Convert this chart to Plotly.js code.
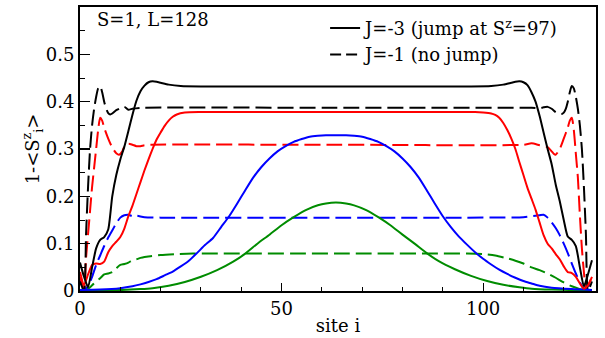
<!DOCTYPE html>
<html>
<head>
<meta charset="utf-8">
<script src="https://cdn.plot.ly/plotly-3.0.1.min.js"></script>
<style>html,body{margin:0;padding:0;background:#fff;}#chart{width:605px;height:338px;}</style>
</head>
<body>
<div id="chart"></div>
<script>
// ---- data ----
// J=-3 curves (solid)
const blackSolidX = [0,1,2,3,4,5,6,7,8,9,10,11,12,13,14,15,16,17,18,19,20,22,25,30,40,50,63.5,77,87,97,102,105,107,108,109,110,111,112,113,114,115,116,117,118,119,120,121,122,123,124,125,126,127];
const blackSolidY = [0.06,0.03,0.008,0.05,0.09,0.108,0.114,0.13,0.2,0.245,0.278,0.305,0.338,0.372,0.402,0.422,0.434,0.441,0.443,0.442,0.44,0.436,0.433,0.432,0.432,0.432,0.432,0.432,0.432,0.432,0.433,0.436,0.44,0.442,0.443,0.441,0.435,0.42,0.4,0.37,0.335,0.3,0.268,0.225,0.19,0.15,0.115,0.108,0.095,0.05,0.01,0.035,0.065];

const redSolidX = [0,1,2,3,4,5,6,7,8,9,10,11,12,13,14,15,16,17,18,19,20,21,22,23,24,26,30,63.5,98,100,102,103,104,105,106,107,108,109,110,111,112,113,114,115,116,117,118,119,120,121,122,123,124,125,126,127];
const redSolidY = [0.04,0.013,0.035,0.055,0.058,0.057,0.062,0.082,0.095,0.104,0.114,0.132,0.158,0.18,0.205,0.23,0.255,0.278,0.3,0.32,0.335,0.349,0.36,0.368,0.373,0.377,0.378,0.378,0.378,0.377,0.375,0.372,0.366,0.355,0.34,0.322,0.3,0.272,0.245,0.218,0.195,0.172,0.145,0.118,0.1,0.09,0.078,0.067,0.052,0.04,0.038,0.03,0.016,0.005,0.012,0.03];

const blueSolidX = [0,5,10,13,15,17,19,21,23,25,27,29,31,33,35,37,39,41,43,45,47,49,51,53,55,57,59,61,63.5,66,68,70,72,74,76,78,80,82,84,86,88,90,92,94,96,98,100,102,104,106,108,110,112,114,117,122,127];
const blueSolidY = [0.002,0.003,0.006,0.01,0.014,0.019,0.025,0.033,0.041,0.052,0.064,0.08,0.097,0.112,0.135,0.158,0.185,0.213,0.24,0.262,0.28,0.295,0.306,0.315,0.321,0.326,0.328,0.329,0.329,0.329,0.328,0.326,0.321,0.315,0.306,0.295,0.28,0.262,0.24,0.213,0.185,0.158,0.135,0.115,0.098,0.082,0.068,0.056,0.045,0.036,0.028,0.021,0.016,0.011,0.007,0.004,0.002];

const greenSolidX = [0,10,15,18,22,26,30,34,38,41,44,47,50,53,56,59,61,63.5,66,68,71,74,77,80,83,86,89,93,97,101,105,109,112,117,122,127];
const greenSolidY = [0.001,0.002,0.004,0.006,0.011,0.019,0.03,0.044,0.062,0.079,0.1,0.119,0.139,0.156,0.171,0.181,0.185,0.187,0.185,0.181,0.171,0.156,0.139,0.119,0.1,0.08,0.063,0.046,0.032,0.021,0.013,0.008,0.005,0.003,0.002,0.001];

// J=-1 curves (dashed)
const blackDashX = [0,1,1.5,2,2.5,3,3.5,4,4.5,5,5.5,6,6.5,7,7.5,8,9,10,11,12,13,15,63.5,112,114,115,116,117,118,119,119.5,120,120.5,121,121.5,122,122.5,123,123.5,124,124.5,125,125.5,126,127];
const blackDashY = [0.02,0.0,0.12,0.22,0.3,0.35,0.385,0.41,0.428,0.433,0.42,0.4,0.385,0.376,0.373,0.375,0.382,0.386,0.389,0.383,0.385,0.387,0.387,0.387,0.386,0.388,0.389,0.385,0.378,0.374,0.374,0.377,0.385,0.4,0.42,0.433,0.428,0.41,0.385,0.35,0.3,0.22,0.12,0.0,0.02];

const redDashX = [0,1,1.5,2,2.5,3,3.5,4,4.5,5,5.5,6,7,8,9,9.7,10.5,11,12,13,14,15,16,18,63.5,110,112,114,116,117,117.5,118,119,120,121,121.5,122,122.5,123,123.5,124,124.5,125,125.5,126.5,127];
const redDashY = [0.03,0.005,0.07,0.12,0.17,0.22,0.26,0.3,0.34,0.366,0.36,0.345,0.322,0.303,0.291,0.288,0.295,0.305,0.311,0.309,0.306,0.306,0.308,0.309,0.309,0.309,0.312,0.308,0.304,0.295,0.29,0.288,0.3,0.322,0.345,0.36,0.366,0.34,0.29,0.24,0.16,0.09,0.04,0.005,0.02,0.03];

const blueDashX = [0,1,2,3,4,5,6,7,8,9,10,11,12,13,14,16,20,63.5,110,112,114,115,116,117,118,119,120,121,122,123,124,125,126,127];
const blueDashY = [0.025,0.004,0.01,0.03,0.055,0.075,0.095,0.113,0.128,0.143,0.155,0.16,0.161,0.158,0.159,0.156,0.155,0.155,0.156,0.158,0.16,0.161,0.155,0.145,0.133,0.118,0.1,0.08,0.058,0.037,0.018,0.005,0.01,0.02];

const greenDashX = [0,2,3,4,5,6,7,8,9,10,11,12,13,14,15,16,18,20,24,28,63.5,96,100,103,106,108,110,112,114,116,118,120,122,124,125,127];
const greenDashY = [0.002,0.005,0.012,0.02,0.027,0.035,0.037,0.04,0.048,0.055,0.057,0.06,0.065,0.067,0.07,0.072,0.074,0.076,0.078,0.079,0.079,0.079,0.078,0.075,0.069,0.064,0.058,0.05,0.044,0.037,0.028,0.018,0.01,0.004,0.002,0.002];

const legendNames = ['J=-3 (jump at S<sup>z</sup>=97)', 'J=-1 (no jump)'];
const annotationText = 'S=1, L=128';
const xTickVals = [0, 50, 100];
const xTickText = ['0', '50', '100'];
const yTickVals = [0, 0.1, 0.2, 0.3, 0.4, 0.5];
const yTickText = ['0', '0.1', '0.2', '0.3', '0.4', '0.5'];

// ---- styling ----
const FONT = 'DejaVu Serif';
const BLACK = '#000000', RED = '#ff0000', BLUE = '#0000ff', GREEN = '#008c00';
const DASH = '16px,6px';

function line(x, y, color, dash) {
  return {x: x, y: y, type: 'scatter', mode: 'lines', showlegend: false,
          hoverinfo: 'skip', line: {color: color, width: 2, dash: dash, shape: 'spline', smoothing: 0.6}};
}

const traces = [
  line(greenDashX, greenDashY, GREEN, DASH),
  line(blueDashX, blueDashY, BLUE, DASH),
  line(redDashX, redDashY, RED, DASH),
  line(blackDashX, blackDashY, BLACK, DASH),
  line(greenSolidX, greenSolidY, GREEN, 'solid'),
  line(blueSolidX, blueSolidY, BLUE, 'solid'),
  line(redSolidX, redSolidY, RED, 'solid'),
  line(blackSolidX, blackSolidY, BLACK, 'solid'),
  {x: [null], y: [null], type: 'scatter', mode: 'lines', name: legendNames[0], showlegend: true,
   line: {color: BLACK, width: 2}},
  {x: [null], y: [null], type: 'scatter', mode: 'lines', name: legendNames[1], showlegend: true,
   line: {color: BLACK, width: 2, dash: '11px,5px'}}
];

const layout = {
  width: 605, height: 338,
  margin: {l: 80, r: 9, t: 7, b: 47},
  paper_bgcolor: '#ffffff', plot_bgcolor: '#ffffff',
  font: {family: FONT, size: 18, color: '#000'},
  showlegend: true,
  legend: {x: 0.475, xanchor: 'left', y: 0.99, yanchor: 'top', bgcolor: 'rgba(0,0,0,0)',
           font: {family: FONT, size: 18, color: '#000'}, tracegroupgap: 0, itemwidth: 30},
  xaxis: {
    range: [0, 128], showgrid: false, zeroline: false,
    showline: true, linecolor: '#000', linewidth: 2, mirror: true,
    ticks: 'inside', ticklen: 8, tickwidth: 1.2, tickcolor: '#000',
    tickmode: 'array', tickvals: xTickVals, ticktext: xTickText,
    tickfont: {family: FONT, size: 18},
    minor: {tickmode: 'linear', tick0: 0, dtick: 10, ticks: 'inside', ticklen: 4, tickwidth: 1, tickcolor: '#000'},
    title: {text: 'site i', font: {family: FONT, size: 18}, standoff: 2}
  },
  yaxis: {
    range: [0, 0.6], showgrid: false, zeroline: false,
    showline: true, linecolor: '#000', linewidth: 2, mirror: true,
    ticks: 'inside', ticklen: 10, tickwidth: 1.2, tickcolor: '#000',
    tickmode: 'array', tickvals: yTickVals, ticktext: yTickText,
    tickfont: {family: FONT, size: 18},
    minor: {tickmode: 'linear', tick0: 0, dtick: 0.05, ticks: 'inside', ticklen: 5, tickwidth: 1, tickcolor: '#000'},
    title: {text: '1-&lt;S<sup>z</sup><sub>i</sub>&gt;', font: {family: FONT, size: 18}, standoff: 0}
  },
  annotations: [{
    text: annotationText, xref: 'paper', yref: 'paper', x: 0.03, y: 1, xanchor: 'left', yanchor: 'top',
    showarrow: false, font: {family: FONT, size: 18, color: '#000'}
  }]
};

Plotly.newPlot('chart', traces, layout, {displayModeBar: false, staticPlot: true});
</script>
</body>
</html>
